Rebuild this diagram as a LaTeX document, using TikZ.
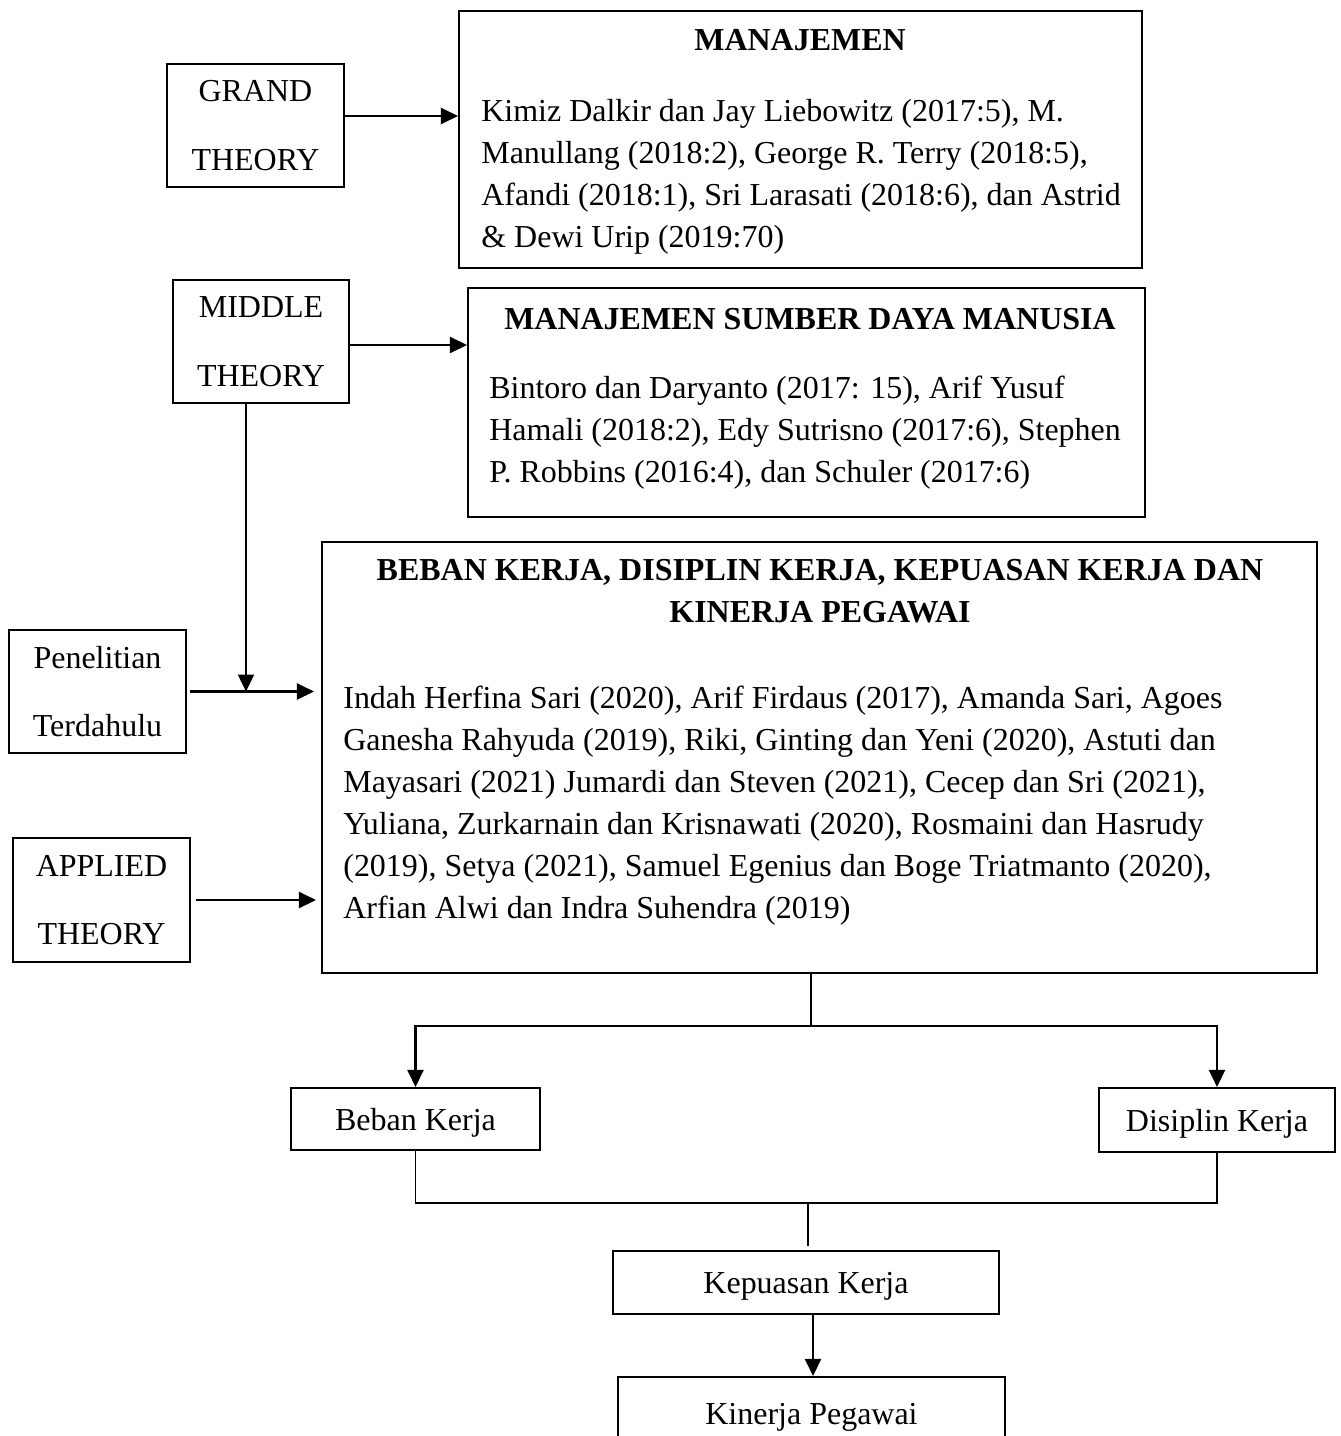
\documentclass[tikz,border=0pt]{standalone}
\usepackage{fontspec}
\setmainfont{Liberation Serif}
\usetikzlibrary{arrows.meta,fit,calc}

\begin{document}
\begin{tikzpicture}[x=0.02cm,y=-0.02cm,
  box/.style={draw,line width=1.2pt,inner sep=0pt},
  wh/.style 2 args={minimum width=#1*0.02cm,minimum height=#2*0.02cm},
  txt/.style={inner sep=0pt,font=\fontsize{18.2}{23.9}\selectfont},
  tag/.style={box,align=center,font=\fontsize{18.2}{39}\selectfont},
  var/.style={tag,text depth=0pt},
  arr/.style={line width=1.4pt,-{Triangle[length=0.34cm,width=0.32cm]}},
  link/.style={line width=0.6pt}]
\useasboundingbox (0,0) rectangle (1341,1436);

% theory boxes on the left
\node[tag,wh={177}{123}] (grand) at (255.5,125.5) {GRAND\\THEORY};
\node[tag,wh={176}{123}] (middle) at (261,341.5) {MIDDLE\\THEORY};
\node[tag,wh={177}{123}] (prev) at (97.5,691.5) {Penelitian\\Terdahulu};
\node[tag,wh={177}{124}] (applied) at (101.5,900) {APPLIED\\THEORY};

% literature boxes
\node[box,fit={(459,11) (1142,268)}] (mgt) {};
\node[txt,anchor=base] (mgttitle) at (800,51) {\bfseries MANAJEMEN};
\node[txt,anchor=base west,align=left] (mgtbody) at (481,247) {Kimiz Dalkir dan Jay Liebowitz (2017:5), M.\\
Manullang (2018:2), George R. Terry (2018:5),\\
Afandi (2018:1), Sri Larasati (2018:6), dan Astrid\\
\& Dewi Urip (2019:70)};

\node[box,fit={(468,288) (1145,517)}] (msdm) {};
\node[txt,anchor=base] (msdmtitle) at (810,329) {\bfseries MANAJEMEN SUMBER DAYA MANUSIA};
\node[txt,anchor=base west,align=left] (msdmbody) at (489,482) {Bintoro dan Daryanto (2017: 15), Arif Yusuf\\
Hamali (2018:2), Edy Sutrisno (2017:6), Stephen\\
P. Robbins (2016:4), dan Schuler (2017:6)};

\node[box,fit={(322,542) (1317,973)}] (main) {};
\node[txt,anchor=base,align=center] (maintitle) at (820,622) {\bfseries BEBAN KERJA, DISIPLIN KERJA, KEPUASAN KERJA DAN\\
\bfseries KINERJA PEGAWAI};
\node[txt,anchor=base west,align=left] (mainbody) at (343,918) {Indah Herfina Sari (2020), Arif Firdaus (2017), Amanda Sari, Agoes\\
Ganesha Rahyuda (2019), Riki, Ginting dan Yeni (2020), Astuti dan\\
Mayasari (2021) Jumardi dan Steven (2021), Cecep dan Sri (2021),\\
Yuliana, Zurkarnain dan Krisnawati (2020), Rosmaini dan Hasrudy\\
(2019), Setya (2021), Samuel Egenius dan Boge Triatmanto (2020),\\
Arfian Alwi dan Indra Suhendra (2019)};

% variables
\node[var,wh={249}{62}] (beban) at (415.5,1119) {Beban Kerja};
\node[var,wh={236}{64}] (disiplin) at (1217,1120) {Disiplin Kerja};
\node[var,wh={386}{63}] (kepuasan) at (806,1282.5) {Kepuasan Kerja};
\node[tag,wh={387}{80}] (kinerja) at (811.5,1417) {Kinerja Pegawai};

% arrows from the theories
\coordinate (g1) at ($(grand.east)+(0,-9.5)$);
\draw[arr] (g1) -- (g1 -| mgt.west);
\coordinate (m2) at ($(middle.east)+(0,3.5)$);
\draw[arr] (m2) -- (m2 -| msdm.west);
\coordinate (m1) at ($(middle.south)+(-15,0)$);
\draw[arr] (m1) -- (m1 |- prev.east);
\draw[arr,shorten <=0.06cm,shorten >=0.14cm] (prev.east) -- (prev.east -| main.west);
\draw[arr,shorten <=0.1cm,shorten >=0.1cm] (applied.east) -- (applied.east -| main.west);

% lower part
\coordinate (s1) at (811,1026);
\draw[link] (s1 |- main.south) -- (s1);
\draw[arr] (s1) -| (beban);
\draw[arr] (s1) -| (disiplin);
\coordinate (s2) at (808,1203);
\draw[link] (beban.south) |- (s2) -| (disiplin.south);
\draw[link,shorten >=0.08cm] (s2) -- (s2 |- kepuasan.north);
\coordinate (k1) at (813,1314);
\draw[arr] (k1 |- kepuasan.south) -- (k1 |- kinerja.north);
\end{tikzpicture}
\end{document}
